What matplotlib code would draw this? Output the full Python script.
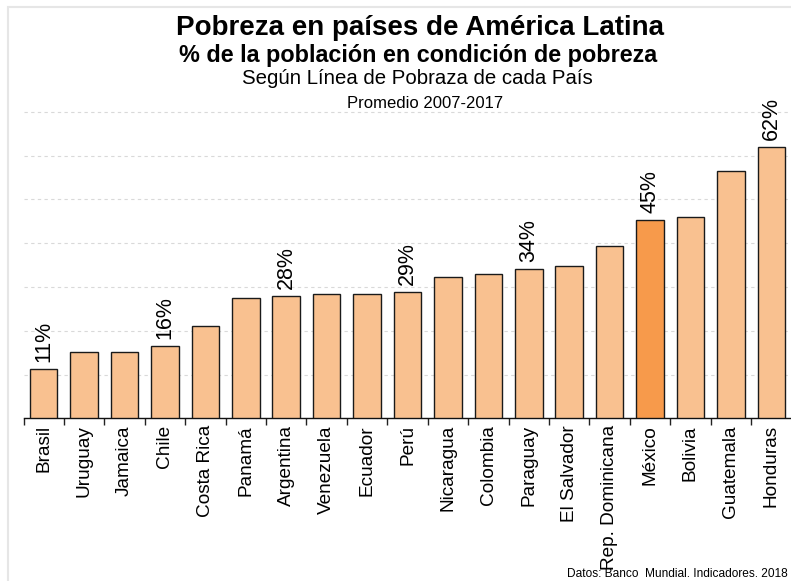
import matplotlib
matplotlib.use("Agg")
import numpy as np
from matplotlib import pyplot as plt
from matplotlib.patches import Rectangle

plt.rcParams['font.family'] = ['Liberation Sans', 'DejaVu Sans']

paises = ["Brasil", "Uruguay", "Jamaica", "Chile", "Costa Rica", "Panamá",
          "Argentina", "Venezuela", "Ecuador", "Perú", "Nicaragua", "Colombia",
          "Paraguay", "El Salvador", "Rep. Dominicana", "México", "Bolivia",
          "Guatemala", "Honduras"]
pobreza = [11.2, 15.2, 15.2, 16.5, 21.1, 27.5, 28.0, 28.4, 28.4, 28.8, 32.3,
           32.9, 34.1, 34.8, 39.3, 45.2, 45.9, 56.5, 61.9]
# paises con etiqueta de valor
etiquetados = ["Brasil", "Chile", "Argentina", "Perú", "Paraguay", "México", "Honduras"]
destacado = "México"

fig = plt.figure(figsize=(7.91, 5.81), dpi=100)
ax = fig.add_axes([23.5 / 791, (581 - 418.3) / 581, 768 / 791, 328.5 / 581])

x = np.arange(len(paises))
colores = ["#F79A4B" if p == destacado else "#F9C190" for p in paises]
ax.bar(x, pobreza, width=0.68, color=colores, edgecolor="#1a1a1a", linewidth=1, zorder=3)

for i, (p, v) in enumerate(zip(paises, pobreza)):
    if p in etiquetados:
        ax.annotate(f"{round(v)}%", (i, v), xytext=(0, 5), textcoords="offset points",
                    rotation=90, ha="center", va="bottom", fontsize=15.5)

ax.set_xlim(-0.5, len(paises) - 0.5)
ax.set_ylim(0, 75)
ax.set_yticks(range(0, 80, 10))
ax.set_yticklabels([])
ax.tick_params(axis="y", length=0)
ax.grid(axis="y", color="#d9d9d9", linestyle=(0, (3, 3)), linewidth=0.8, zorder=0)

ax.set_xticks(x)
ax.set_xticklabels(paises, rotation=90, fontsize=13.7)
ax.tick_params(axis="x", length=0, pad=5)
ax.set_xticks(np.arange(-0.5, len(paises), 1), minor=True)
ax.tick_params(axis="x", which="minor", length=5, color="#222222", width=1)

for s in ["top", "right", "left"]:
    ax.spines[s].set_visible(False)
ax.spines["bottom"].set_color("#111111")
ax.spines["bottom"].set_linewidth(1)

fig.patches.append(Rectangle((8 / 791, -0.1), 1.2, 1.1 - 7 / 581, transform=fig.transFigure,
                             fill=False, edgecolor="#e6e6e6", linewidth=1.5))

fig.text(0.531, 1 - 35 / 581, "Pobreza en países de América Latina", ha="center",
         va="baseline", fontsize=20, fontweight="bold")
fig.text(0.529, 1 - 62 / 581, "% de la población en condición de pobreza", ha="center",
         va="baseline", fontsize=16.8, fontweight="bold")
fig.text(0.528, 1 - 84 / 581, "Según Línea de Pobraza de cada País", ha="center",
         va="baseline", fontsize=14.7)
fig.text(0.537, 1 - 108 / 581, "Promedio 2007-2017", ha="center",
         va="baseline", fontsize=12)
fig.text(788 / 791, 1 - 577 / 581, "Datos: Banco  Mundial. Indicadores. 2018", ha="right",
         va="baseline", fontsize=8.6)

fig.savefig("out.png", dpi=100)
